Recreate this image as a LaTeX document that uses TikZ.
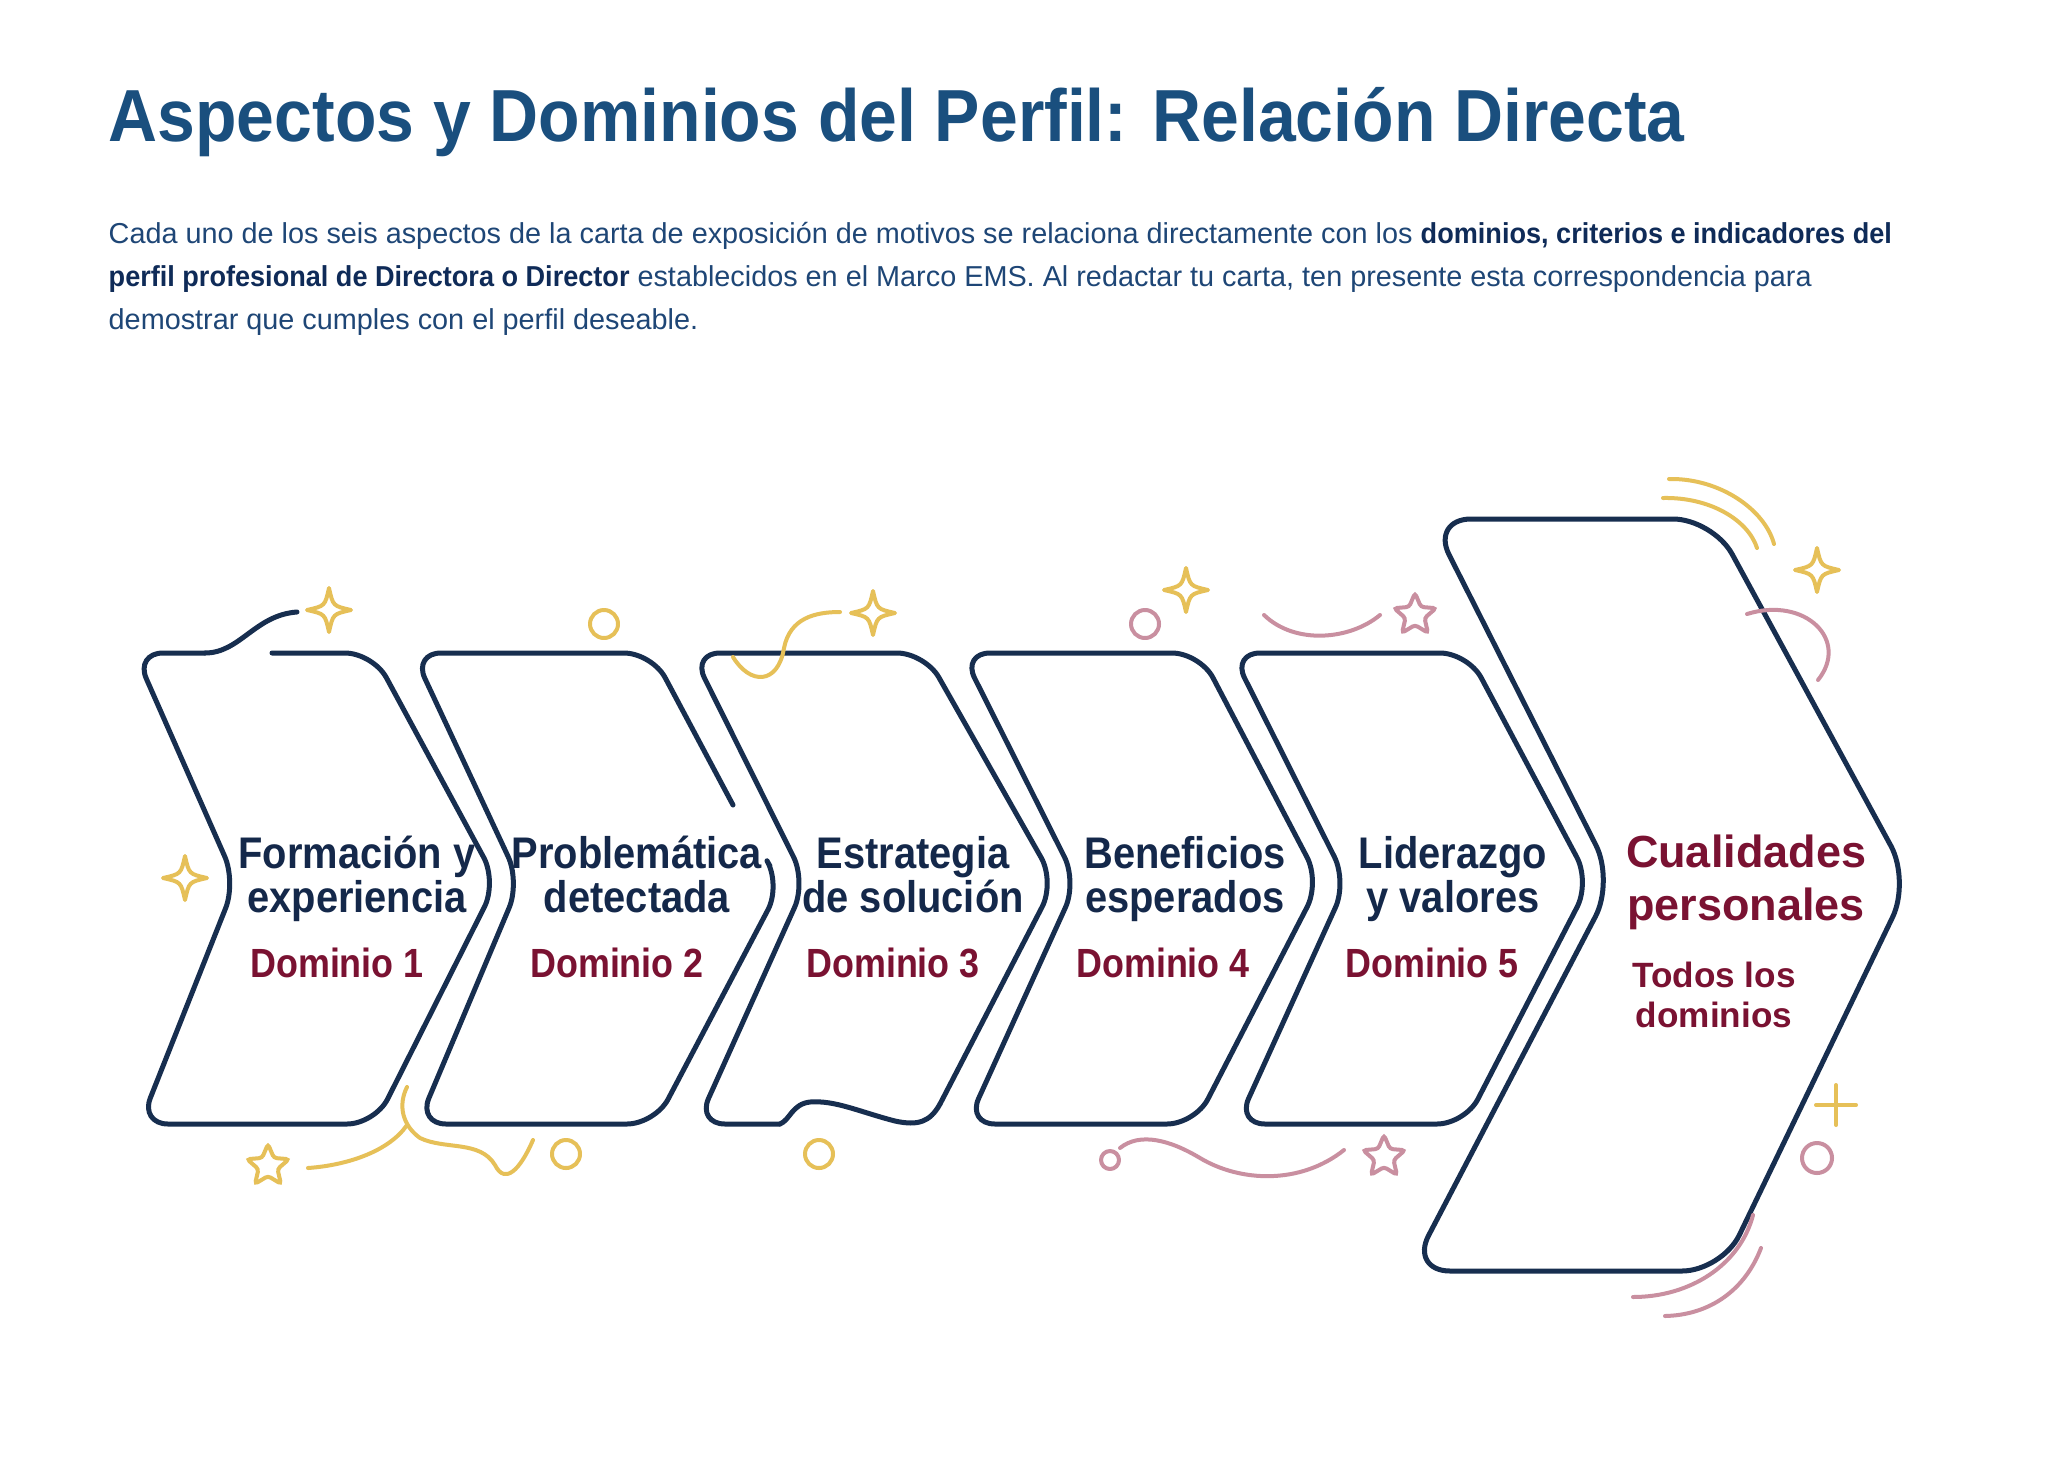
\documentclass[tikz,border=0pt]{standalone}
\usepackage{fontspec}
\setmainfont{Liberation Sans}
\newfontfamily\titlefont[FakeStretch=0.92]{Liberation Sans}
\newfontfamily\boldfont[FakeStretch=0.94]{Liberation Sans}
\newfontfamily\aspectfont[FakeStretch=0.9]{Liberation Sans}
\newfontfamily\condfont[FakeStretch=0.88]{Liberation Sans}
\usetikzlibrary{shapes.geometric}
\definecolor{titleblue}{HTML}{1A4F7E}
\definecolor{textblue}{HTML}{1E4676}
\definecolor{boldblue}{HTML}{0F2B58}
\definecolor{navy}{HTML}{172E4F}
\definecolor{inkblue}{HTML}{14284A}
\definecolor{maroon}{HTML}{7A1232}
\definecolor{gold}{HTML}{E6C058}
\definecolor{pink}{HTML}{C98FA0}

\begin{document}
\begin{tikzpicture}[
    x=0.1mm, y=-0.1mm,
    outline/.style={draw=navy, line width=0.5mm, rounded corners=2.8mm, line join=round, line cap=round},
    wavyedge/.style={draw=navy, line width=0.5mm, line cap=round},
    deco/.style={line width=0.4mm, line cap=round, line join=round},
    aspect/.style={font=\aspectfont\bfseries\fontsize{12.6}{14}\selectfont, text=inkblue, anchor=base, inner sep=0pt},
    domlabel/.style={font=\condfont\bfseries\fontsize{11.6}{14}\selectfont, text=maroon, anchor=base, inner sep=0pt},
    bigaspect/.style={font=\bfseries\fontsize{12.8}{15}\selectfont, text=maroon, anchor=base, inner sep=0pt},
    alldomains/.style={font=\bfseries\fontsize{10}{12}\selectfont, text=maroon, anchor=base, inner sep=0pt},
    intro/.style={font=\fontsize{8.2}{10}\selectfont, text=textblue, anchor=base west, inner sep=0pt},
    starnode/.style={star, star points=5, star point ratio=2.2, minimum size=4.4mm, inner sep=0pt, line width=0.4mm, rounded corners=0.3mm},
    sparkle/.pic={\draw[deco] (0,-22) .. controls (4,-4) .. (22,0) .. controls (4,4) .. (0,22) .. controls (-4,4) .. (-22,0) .. controls (-4,-4) .. (0,-22) -- cycle;}
]
\fill[white] (0,0) rectangle (2048,1468);
\useasboundingbox (0,0) rectangle (2048,1468);

\node[anchor=base west, inner sep=0pt, text=titleblue, font=\titlefont\bfseries\fontsize{21}{25}\selectfont] (title) at (108,141) {Aspectos y Dominios del Perfil: Relación Directa};

\node[intro] (intro1) at (108,243) {Cada uno de los seis aspectos de la carta de exposición de motivos se relaciona directamente con los \textcolor{boldblue}{\boldfont\bfseries dominios, criterios e indicadores del}};
\node[intro] (intro2) at (108,286) {\textcolor{boldblue}{\boldfont\bfseries perfil profesional de Directora o Director} establecidos en el Marco EMS. Al redactar tu carta, ten presente esta correspondencia para};
\node[intro] (intro3) at (108,329) {demostrar que cumples con el perfil deseable.};

% chevrons
\draw[outline] (272,653) -- (373,653) -- (497,882) -- (375,1124) -- (140,1124) -- (236,882) -- (135,653) -- (205,653);
\draw[wavyedge] (205,653) .. controls (240,653) and (255,615) .. (297,612);
\draw[outline] (770,866) -- (781,885) -- (655,1124) -- (418,1124) -- (520,882) -- (413,653) -- (652,653) -- (733,805);
\draw[outline] (940,1104) -- (1055,882) -- (925,653) -- (692,653) -- (806,882) -- (697,1124) -- (780,1124);
\draw[wavyedge] (780,1124) .. controls (790,1120) and (792,1104) .. (810,1102) .. controls (835,1100) and (860,1112) .. (895,1121) .. controls (918,1126) and (930,1122) .. (940,1104);
\draw[outline] (962,653) -- (1200,653) -- (1320,882) -- (1195,1124) -- (967,1124) -- (1077,882) -- cycle;
\draw[outline] (1232,653) -- (1468,653) -- (1590,882) -- (1465,1124) -- (1237,1124) -- (1347,882) -- cycle;
\draw[outline, rounded corners=4mm] (1431,519) -- (1713,519) -- (1910,881) -- (1722,1271) -- (1410,1271) -- (1614,881) -- cycle;

\node[aspect] (asp1a) at (357,868) {Formación y};
\node[aspect] (asp1b) at (357,912) {experiencia};
\node[domlabel] (dom1) at (337,977) {Dominio 1};
\node[aspect] (asp2a) at (637,868) {Problemática};
\node[aspect] (asp2b) at (637,912) {detectada};
\node[domlabel] (dom2) at (617,977) {Dominio 2};
\node[aspect] (asp3a) at (913,868) {Estrategia};
\node[aspect] (asp3b) at (913,912) {de solución};
\node[domlabel] (dom3) at (893,977) {Dominio 3};
\node[aspect] (asp4a) at (1185,868) {Beneficios};
\node[aspect] (asp4b) at (1185,912) {esperados};
\node[domlabel] (dom4) at (1163,977) {Dominio 4};
\node[aspect] (asp5a) at (1453,868) {Liderazgo};
\node[aspect] (asp5b) at (1453,912) {y valores};
\node[domlabel] (dom5) at (1432,977) {Dominio 5};
\node[bigaspect] (asp6a) at (1746,867) {Cualidades};
\node[bigaspect] (asp6b) at (1746,920) {personales};
\node[alldomains] (dom6a) at (1714,987) {Todos los};
\node[alldomains] (dom6b) at (1714,1027) {dominios};

% decorations
\pic[color=gold] at (329,610) {sparkle};
\pic[color=gold] at (185,878) {sparkle};
\pic[color=gold] at (873,613) {sparkle};
\pic[color=gold] at (1186,590) {sparkle};
\pic[color=gold] at (1817,570) {sparkle};
\node[starnode, draw=gold] (star1) at (268,1166) {};
\node[starnode, draw=pink] (star2) at (1415,615) {};
\node[starnode, draw=pink] (star3) at (1384,1157) {};
\draw[deco, gold] (604,624) circle (14);
\draw[deco, gold] (566,1154) circle (14);
\draw[deco, gold] (819,1154) circle (14);
\draw[deco, pink] (1145,624) circle (14);
\draw[deco, pink] (1817,1158) circle (15);
\draw[deco, pink] (1110,1160) circle (9);
\draw[deco, gold] (733,657) .. controls (750,685) and (778,685) .. (784,648) .. controls (790,618) and (815,612) .. (840,612);
\draw[deco, gold] (407,1087) .. controls (398,1105) and (402,1125) .. (420,1138) .. controls (445,1150) and (480,1140) .. (495,1165) .. controls (505,1185) and (520,1170) .. (533,1140);
\draw[deco, gold] (308,1168) .. controls (350,1165) and (390,1150) .. (407,1125);
\draw[deco, pink] (1264,615) .. controls (1295,645) and (1350,640) .. (1380,615);
\draw[deco, pink] (1120,1148) .. controls (1140,1132) and (1170,1140) .. (1200,1158) .. controls (1240,1182) and (1300,1185) .. (1344,1150);
\draw[deco, gold] (1669,479) .. controls (1720,478) and (1765,510) .. (1774,544);
\draw[deco, gold] (1663,498) .. controls (1710,497) and (1748,520) .. (1757,548);
\draw[deco, pink] (1747,614) .. controls (1805,596) and (1850,640) .. (1818,680);
\draw[deco, gold] (1816,1105) -- (1856,1105);
\draw[deco, gold] (1836,1085) -- (1836,1125);
\draw[deco, pink] (1753,1215) .. controls (1740,1265) and (1690,1297) .. (1633,1297);
\draw[deco, pink] (1761,1248) .. controls (1745,1290) and (1710,1315) .. (1665,1316);
\end{tikzpicture}
\end{document}
